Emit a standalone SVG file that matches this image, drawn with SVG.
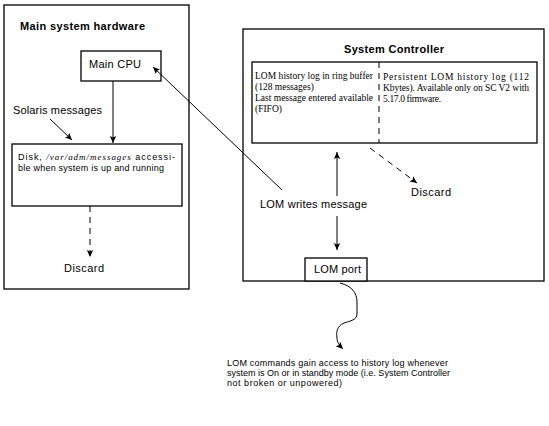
<svg xmlns="http://www.w3.org/2000/svg" width="549" height="426" viewBox="0 0 549 426">
<style>
.box{fill:#fff;stroke:#000;stroke-width:1.3}
.ln{fill:none;stroke:#000;stroke-width:1}
.dash{fill:none;stroke:#000;stroke-width:1;stroke-dasharray:6,5}
.t{font-family:"Liberation Sans",Arial,sans-serif;font-size:11px;fill:#000}
.b{font-family:"Liberation Sans",Arial,sans-serif;font-size:11px;font-weight:bold;fill:#000}
.s{font-family:"Liberation Serif","Times New Roman",serif;font-size:9.5px;fill:#000}
.n{font-family:"Liberation Sans",Arial,sans-serif;font-size:9px;fill:#000}
</style>
<defs>
<marker id="ah" markerWidth="8" markerHeight="8" refX="7" refY="4" orient="auto" markerUnits="userSpaceOnUse">
<path d="M0,0.8 L7,4 L0,7.2 L1.5,4 Z" fill="#000"/>
</marker>
</defs>
<rect width="549" height="426" fill="#fff"/>
<g id="main-hw">
<rect class="box" x="4" y="5" width="185" height="284"/>
<text class="b" x="20" y="30" textLength="125" lengthAdjust="spacing">Main system hardware</text>
</g>
<g id="cpu">
<rect class="box" x="81" y="51" width="80" height="30"/>
<text class="t" x="89" y="68" textLength="52" lengthAdjust="spacing">Main CPU</text>
</g>
<g id="solaris">
<text class="t" x="13" y="114" textLength="89" lengthAdjust="spacing">Solaris messages</text>
</g>
<g id="disk">
<rect class="box" x="12" y="144" width="170" height="62"/>
<text class="n" x="18" y="160" textLength="157" lengthAdjust="spacing">Disk, <tspan font-style="italic" font-family="Liberation Serif,serif">/var/adm/messages</tspan> accessi-</text>
<text class="n" x="18" y="171" textLength="146" lengthAdjust="spacing">ble when system is up and running</text>
</g>
<g id="discard-left">
<text class="t" x="64" y="272" textLength="40" lengthAdjust="spacing">Discard</text>
</g>
<g id="sys-ctrl">
<rect class="box" x="243" y="29" width="301" height="252"/>
<text class="b" x="344" y="53" textLength="100" lengthAdjust="spacing">System Controller</text>
</g>
<g id="history">
<rect class="box" x="252" y="62" width="285" height="81"/>
<line class="dash" x1="379" y1="62" x2="379" y2="143"/>
<text class="s" x="255" y="79" textLength="118" lengthAdjust="spacing">LOM history log in ring buffer</text>
<text class="s" x="255" y="90">(128 messages)</text>
<text class="s" x="255" y="101" textLength="118" lengthAdjust="spacing">Last message entered available</text>
<text class="s" x="255" y="112">(FIFO)</text>
<text class="s" x="383" y="80" textLength="146" lengthAdjust="spacing">Persistent LOM history log (112</text>
<text class="s" x="383" y="91" textLength="146" lengthAdjust="spacing">Kbytes). Available only on SC V2 with</text>
<text class="s" x="383" y="102" textLength="58" lengthAdjust="spacing">5.17.0 firmware.</text>
</g>
<g id="discard-right">
<text class="t" x="411" y="196" textLength="40" lengthAdjust="spacing">Discard</text>
</g>
<g id="lom-writes">
<text class="t" x="260" y="208" textLength="107" lengthAdjust="spacing">LOM writes message</text>
</g>
<g id="lom-port">
<rect class="box" x="305" y="258" width="62" height="23"/>
<text class="t" x="314" y="273" textLength="47" lengthAdjust="spacing">LOM port</text>
</g>
<g id="note">
<text class="n" x="227" y="366" textLength="221" lengthAdjust="spacing">LOM commands gain access to history log whenever</text>
<text class="n" x="227" y="376" textLength="223" lengthAdjust="spacing">system is On or in standby mode (i.e. System Controller</text>
<text class="n" x="227" y="386" textLength="115" lengthAdjust="spacing">not broken or unpowered)</text>
</g>
<g id="connectors">
<line class="ln" x1="113" y1="81" x2="113" y2="143" marker-end="url(#ah)"/>
<line class="ln" x1="50" y1="119" x2="72" y2="140" marker-end="url(#ah)"/>
<line class="dash" x1="90" y1="206" x2="90" y2="257" marker-end="url(#ah)"/>
<line class="ln" x1="282" y1="190" x2="153" y2="67" marker-end="url(#ah)"/>
<line class="ln" x1="337" y1="196" x2="337" y2="152" marker-end="url(#ah)"/>
<line class="dash" x1="370" y1="148" x2="417" y2="183" marker-end="url(#ah)"/>
<line class="ln" x1="337" y1="216" x2="337" y2="250" marker-end="url(#ah)"/>
<path class="ln" d="M340,283 C352,286 357,293 357,302 L357,314 C357,320 350,321 344,323 C337,326 336,332 337,338 C337,342 339,345 343,349" marker-end="url(#ah)"/>
</g>
</svg>
